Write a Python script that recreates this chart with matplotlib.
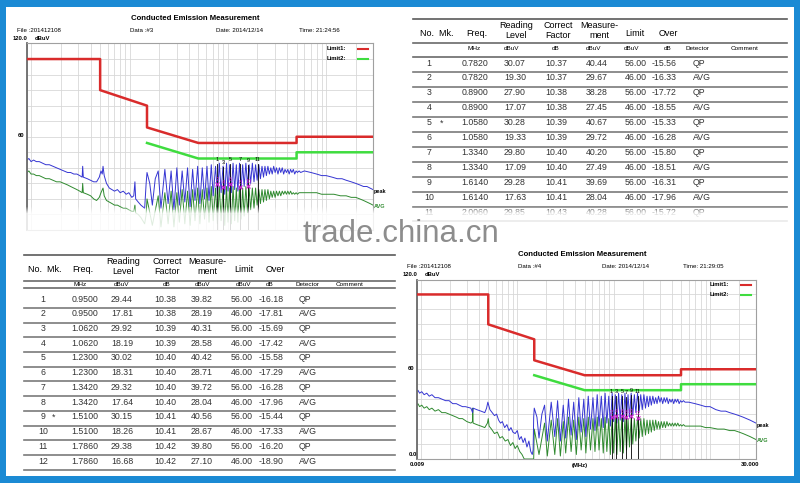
import numpy as np
import matplotlib
matplotlib.use("Agg")
import matplotlib.pyplot as plt
from matplotlib.patches import Rectangle
from matplotlib.lines import Line2D

plt.rcParams['font.family'] = ['Liberation Sans', 'DejaVu Sans']

# ---------------------------------------------------------------- data
LIMIT_QP_F = [0.009, 0.05, 0.05, 0.15, 0.15, 0.5, 5.0, 5.0, 30.0]
LIMIT_QP_V = [110, 110, 90, 80, 66, 56, 56, 60, 60]
LIMIT_AV_F = [0.15, 0.5, 5.0, 5.0, 30.0]
LIMIT_AV_V = [56, 46, 46, 50, 50]

D3_PEAK = [(0.0090,45),(0.0094,46),(0.0099,44),(0.0105,45),(0.0112,44),(0.0120,44),(0.0130,43),(0.0140,42),
           (0.0152,42),(0.0165,41),(0.0180,40),(0.0196,39),(0.0214,38),(0.0233,37),(0.0250,37),(0.0270,36),
           (0.0290,36),(0.0310,35),(0.0328,34),(0.0332,41),(0.0337,34),(0.0370,33),(0.0400,32),(0.0430,31),
           (0.0460,31),(0.0490,34),(0.0510,38),(0.0525,36),(0.0535,41),(0.0550,35),(0.0580,30),(0.0620,27),
           (0.0660,26),(0.0700,25),(0.0750,26),(0.0800,24),(0.0860,25),(0.0920,23),(0.0980,24),(0.1050,21),
           (0.1100,22),(0.1130,31),(0.1150,20),(0.1220,18),(0.1300,16),(0.1360,15),(0.1420,14),(0.1470,30),
           (0.150,37),(0.160,30),(0.170,16),(0.182,33),(0.195,38),(0.208,14),(0.228,39),(0.246,17),(0.264,38),
           (0.282,13),(0.302,40),(0.320,16),(0.342,38),(0.364,18),(0.388,40),(0.412,15),(0.437,39),(0.462,19),
           (0.492,41),(0.518,17),(0.548,40),(0.578,20),(0.612,41),(0.642,19),(0.677,42),(0.708,22),(0.748,41),
           (0.782,23),(0.818,43),(0.852,24),(0.892,41),(0.928,23),(0.968,43),(1.002,25),(1.043,42),(1.083,24),
           (1.128,43),(1.172,26),(1.218,42),(1.263,25),(1.313,43),(1.363,27),(1.413,42),(1.463,28),(1.523,43),
           (1.583,29),(1.643,42),(1.703,30),(1.773,43),(1.843,31),(1.913,42),(1.983,32),(2.063,42),(2.143,33),
           (2.223,41),(2.303,34),(2.383,41),(2.463,35),(2.553,41),(2.643,36),(2.733,40),(2.823,36),(2.923,41),
           (3.023,37),(3.123,40),(3.233,36),(3.343,40),(3.453,37),(3.573,40),(3.693,36),(3.813,39),(3.943,37),
           (4.073,39),(4.203,36),(4.343,39),(4.483,37),(4.633,39),(4.783,36),(4.943,38),(5.103,37),(5.303,38),
           (5.503,37),(6.0,38),(7.0,37),(8.0,36),(9.0,35),(10.0,35),(11.5,34),(13.0,33),(14.5,33),(16.0,32),
           (18.0,31),(20.0,30),(22.0,29),(24.0,28),(26.0,28),(28.0,27),(30.0,26)]

D3_AVG = [(0.0090,37),(0.0094,38),(0.0099,36),(0.0105,36),(0.0112,35),(0.0120,35),(0.0130,34),(0.0140,33),
          (0.0152,33),(0.0165,32),(0.0180,31),(0.0196,31),(0.0214,30),(0.0233,29),(0.0250,28),(0.0270,27),
          (0.0290,26),(0.0310,25),(0.0328,24),(0.0332,30),(0.0337,24),(0.0370,23),(0.0400,22),(0.0430,20),
          (0.0460,19),(0.0490,21),(0.0510,24),(0.0535,27),(0.0550,22),(0.0580,19),(0.0620,18),(0.0660,17),
          (0.0700,16),(0.0750,16),(0.0800,15),(0.0860,14),(0.0920,14),(0.0980,13),(0.1050,12),(0.1100,12),
          (0.1130,16),(0.1150,11),(0.1220,10),(0.1300,8),(0.1360,6),(0.1420,4),(0.1470,10),
          (0.150,20),(0.170,3),(0.195,22),(0.208,2),(0.228,24),(0.246,4),(0.264,25),(0.282,2),(0.302,24),
          (0.320,5),(0.342,26),(0.364,4),(0.388,25),(0.412,3),(0.437,26),(0.462,6),(0.492,27),(0.518,4),
          (0.548,26),(0.578,7),(0.612,27),(0.642,5),(0.677,28),(0.708,6),(0.748,27),(0.782,4),(0.818,28),
          (0.852,6),(0.892,27),(0.928,3),(0.968,28),(1.002,5),(1.043,27),(1.083,4),(1.128,28),(1.172,6),
          (1.218,27),(1.263,5),(1.313,28),(1.363,7),(1.413,27),(1.463,9),(1.523,28),(1.583,11),(1.643,27),
          (1.703,13),(1.773,27),(1.843,14),(1.913,27),(1.983,16),(2.063,26),(2.143,17),(2.223,26),(2.303,18),
          (2.383,26),(2.463,19),(2.553,26),(2.643,20),(2.733,25),(2.823,21),(2.923,25),(3.023,21),(3.123,25),
          (3.233,22),(3.343,25),(3.453,22),(3.573,25),(3.693,23),(3.813,25),(3.943,23),(4.073,25),(4.203,23),
          (4.343,25),(4.483,23),(4.633,24),(4.783,23),(4.943,24),(5.103,23),(5.303,24),(5.503,24),
          (6.0,24),(7.0,24),(8.0,24),(9.0,23),(10.0,23),(12.0,23),(14.0,22),(16.0,22),(18.0,21),(20.0,21),
          (22.0,20),(24.0,19),(26.0,18),(28.0,17),(30.0,16)]

D4_PEAK = [(0.0090,45),(0.0093,46),(0.0097,44),(0.0102,45),(0.0108,43),(0.0115,44),(0.0122,42),(0.0130,43),
           (0.0140,41),(0.0152,41),(0.0165,40),(0.0180,39),(0.0196,39),(0.0214,37),(0.0233,37),(0.0250,36),
           (0.0270,35),(0.0290,35),(0.0330,34),(0.0344,31),(0.0348,34),(0.0380,33),(0.0420,32),(0.0460,31),
           (0.0480,34),(0.0495,38),(0.0505,36),(0.0520,33),(0.0550,31),(0.0580,29),(0.0610,30),(0.0640,26),
           (0.0670,24),(0.0700,25),(0.0740,21),(0.0780,23),(0.0820,19),(0.0860,21),(0.0900,18),(0.0950,17),
           (0.1000,19),(0.1050,13),(0.1100,15),(0.1150,11),(0.1200,14),(0.1260,8),(0.1320,12),(0.1380,5),
           (0.1430,3),(0.1460,6),(0.1480,28),
           (0.150,34),(0.160,28),(0.168,14),(0.180,30),(0.192,36),(0.205,12),(0.225,38),(0.245,15),(0.262,39),
           (0.280,12),(0.300,36),(0.318,14),(0.340,40),(0.362,16),(0.385,38),(0.410,13),(0.435,41),(0.460,18),
           (0.490,40),(0.515,15),(0.545,42),(0.575,20),(0.610,41),(0.640,19),(0.675,43),(0.705,22),(0.745,42),
           (0.780,21),(0.815,44),(0.850,24),(0.890,42),(0.925,22),(0.965,44),(1.000,25),(1.040,43),(1.080,24),
           (1.125,44),(1.170,26),(1.215,43),(1.260,25),(1.310,44),(1.360,27),(1.410,43),(1.460,28),(1.520,44),
           (1.580,29),(1.640,43),(1.700,31),(1.770,44),(1.840,32),(1.910,43),(1.980,33),(2.060,43),(2.140,34),
           (2.220,42),(2.300,35),(2.380,42),(2.460,36),(2.550,42),(2.640,37),(2.730,41),(2.820,37),(2.920,42),
           (3.020,38),(3.120,41),(3.230,37),(3.340,41),(3.450,38),(3.570,41),(3.690,37),(3.810,40),(3.940,38),
           (4.070,40),(4.200,37),(4.340,40),(4.480,38),(4.630,40),(4.780,37),(4.940,39),(5.100,38),(5.300,39),
           (5.500,38),(6.0,38),(7.0,37),(8.0,36),(9.0,35),(10.0,35),(11.5,33),(13.0,32),(14.5,32),(16.0,31),
           (18.0,30),(20.0,29),(22.0,28),(24.0,27),(26.0,26),(28.0,25),(30.0,24)]

D4_AVG = [(0.0090,36),(0.0093,37),(0.0097,35),(0.0102,36),(0.0108,34),(0.0115,35),(0.0122,33),(0.0130,34),
          (0.0140,32),(0.0152,33),(0.0165,31),(0.0180,31),(0.0196,30),(0.0214,29),(0.0233,28),(0.0250,27),
          (0.0270,27),(0.0300,25),(0.0330,24),(0.0343,25),(0.0345,34),(0.0348,24),(0.0380,23),(0.0420,22),
          (0.0460,21),(0.0490,24),(0.0500,27),(0.0510,22),(0.0540,20),(0.0580,17),(0.0620,18),(0.0660,14),
          (0.0700,15),(0.0750,12),(0.0800,13),(0.0850,9),(0.0900,11),(0.0950,7),(0.1000,9),(0.1060,5),
          (0.1120,3),(0.1180,0),(0.1480,0),
          (0.150,20),(0.168,3),(0.192,24),(0.205,2),(0.225,26),(0.245,3),(0.262,27),(0.280,2),(0.300,25),
          (0.318,4),(0.340,28),(0.362,5),(0.385,26),(0.410,3),(0.435,28),(0.460,6),(0.490,27),(0.515,4),
          (0.545,28),(0.575,6),(0.610,27),(0.640,5),(0.675,28),(0.705,6),(0.745,27),(0.780,4),(0.815,28),
          (0.850,5),(0.890,27),(0.925,3),(0.965,28),(1.000,4),(1.040,28),(1.080,3),(1.125,28),(1.170,5),
          (1.215,28),(1.260,4),(1.310,28),(1.360,6),(1.410,27),(1.460,8),(1.520,28),(1.580,10),(1.640,27),
          (1.700,12),(1.770,28),(1.840,14),(1.910,27),(1.980,15),(2.060,27),(2.140,16),(2.220,26),(2.300,17),
          (2.380,26),(2.460,18),(2.550,26),(2.640,19),(2.730,26),(2.820,20),(2.920,25),(3.020,20),(3.120,25),
          (3.230,21),(3.340,25),(3.450,21),(3.570,25),(3.690,22),(3.810,24),(3.940,22),(4.070,24),(4.200,22),
          (4.340,24),(4.480,22),(4.630,24),(4.780,22),(4.940,23),(5.100,22),(5.300,23),(5.500,22),
          (6.0,22),(7.0,22),(8.0,22),(9.0,21),(10.0,21),(12.0,20),(14.0,20),(16.0,19),(18.0,19),(20.0,18),
          (22.0,17),(24.0,16),(26.0,15),(28.0,14),(30.0,13)]

TABLE_HEAD_1 = ["Reading", "Correct", "Measure-"]
TABLE_HEAD_2 = ["Level", "Factor", "ment"]
TABLE_UNITS = ["MHz", "dBuV", "dB", "dBuV", "dBuV", "dB", "Detector", "Comment"]

TOP_ROWS = [
    ("1", "", "0.7820", "30.07", "10.37", "40.44", "56.00", "-15.56", "QP"),
    ("2", "", "0.7820", "19.30", "10.37", "29.67", "46.00", "-16.33", "AVG"),
    ("3", "", "0.8900", "27.90", "10.38", "38.28", "56.00", "-17.72", "QP"),
    ("4", "", "0.8900", "17.07", "10.38", "27.45", "46.00", "-18.55", "AVG"),
    ("5", "*", "1.0580", "30.28", "10.39", "40.67", "56.00", "-15.33", "QP"),
    ("6", "", "1.0580", "19.33", "10.39", "29.72", "46.00", "-16.28", "AVG"),
    ("7", "", "1.3340", "29.80", "10.40", "40.20", "56.00", "-15.80", "QP"),
    ("8", "", "1.3340", "17.09", "10.40", "27.49", "46.00", "-18.51", "AVG"),
    ("9", "", "1.6140", "29.28", "10.41", "39.69", "56.00", "-16.31", "QP"),
    ("10", "", "1.6140", "17.63", "10.41", "28.04", "46.00", "-17.96", "AVG"),
    ("11", "", "2.0060", "29.85", "10.43", "40.28", "56.00", "-15.72", "QP"),
]

BOTTOM_ROWS = [
    ("1", "", "0.9500", "29.44", "10.38", "39.82", "56.00", "-16.18", "QP"),
    ("2", "", "0.9500", "17.81", "10.38", "28.19", "46.00", "-17.81", "AVG"),
    ("3", "", "1.0620", "29.92", "10.39", "40.31", "56.00", "-15.69", "QP"),
    ("4", "", "1.0620", "18.19", "10.39", "28.58", "46.00", "-17.42", "AVG"),
    ("5", "", "1.2300", "30.02", "10.40", "40.42", "56.00", "-15.58", "QP"),
    ("6", "", "1.2300", "18.31", "10.40", "28.71", "46.00", "-17.29", "AVG"),
    ("7", "", "1.3420", "29.32", "10.40", "39.72", "56.00", "-16.28", "QP"),
    ("8", "", "1.3420", "17.64", "10.40", "28.04", "46.00", "-17.96", "AVG"),
    ("9", "*", "1.5100", "30.15", "10.41", "40.56", "56.00", "-15.44", "QP"),
    ("10", "", "1.5100", "18.26", "10.41", "28.67", "46.00", "-17.33", "AVG"),
    ("11", "", "1.7860", "29.38", "10.42", "39.80", "56.00", "-16.20", "QP"),
    ("12", "", "1.7860", "16.68", "10.42", "27.10", "46.00", "-18.90", "AVG"),
]

# ---------------------------------------------------------------- figure
W, H = 800, 483
fig = plt.figure(figsize=(8, 4.83), dpi=100)
fig.patch.set_facecolor('#1b8ad4')
fig.add_artist(Rectangle((6 / W, 1 - 476 / H), 788 / W, 469 / H, transform=fig.transFigure,
                         facecolor='white', edgecolor='none', zorder=0))


def T(x, y, s, **kw):
    kw.setdefault('va', 'center')
    fig.text(x / W, 1 - y / H, s, **kw)


def HL(x0, x1, y, color='#7a7a7a', lw=1.0):
    fig.add_artist(Line2D([x0 / W, x1 / W], [1 - y / H, 1 - y / H], color=color, lw=lw))


RED = '#d92b2b'
LGREEN = '#3fdc3f'
BLUE = '#3535d2'
DGREEN = '#2f8a2f'


def draw_chart(box, hdr, peak, avg, rows, show_bottom_labels):
    x0, y0, x1, y1 = box
    ax = fig.add_axes([x0 / W, 1 - y1 / H, (x1 - x0) / W, (y1 - y0) / H])
    ax.set_xscale('log')
    ax.set_xlim(0.009, 30)
    ax.set_ylim(0, 120)
    ax.tick_params(which='both', length=0, labelbottom=False, labelleft=False)
    for e in [-3, -2, -1, 0, 1]:
        for k in range(1, 10):
            f = k * 10.0 ** e
            if 0.009 < f < 30:
                ax.axvline(f, color='#d8d8d8', lw=0.6, zorder=0)
    for v in range(10, 120, 10):
        ax.axhline(v, color='#d8d8d8', lw=0.6, zorder=0)
    for s in ax.spines.values():
        s.set_color('#a0a0a0'); s.set_linewidth(0.8)
    ax.spines['left'].set_color('#6a6a6a'); ax.spines['left'].set_linewidth(1.3)

    ax.plot(LIMIT_QP_F, LIMIT_QP_V, color=RED, lw=1.8, zorder=3)
    ax.plot(LIMIT_AV_F, LIMIT_AV_V, color=LGREEN, lw=1.8, zorder=3)
    pf, pv = zip(*peak)
    af, av = zip(*avg)
    ax.plot(af, av, color=DGREEN, lw=0.7, zorder=2)
    ax.plot(pf, pv, color=BLUE, lw=0.7, zorder=2)

    for r in rows:
        f = float(r[2]); m = float(r[5])
        if r[8] == 'QP':
            ax.plot([f, f], [0, m + 2], color='black', lw=0.6, zorder=4)
            ax.text(f, m + 5, r[0], fontsize=4, color='black', ha='center', va='center', zorder=5)
        else:
            ax.plot([f], [m], marker='x', ms=2.5, color='#d020d0', mew=0.8, zorder=5)
            ax.text(f, m + 3, r[0], fontsize=4, color='#d020d0', ha='center', va='center', zorder=5)

    title_x, title_y, info_y, info_x, data_s, time_s = hdr
    T(title_x, title_y, 'Conducted Emission Measurement', fontsize=5.6, fontweight='bold', ha='center')
    T(info_x[0], info_y, 'File :201412108', fontsize=4.4)
    T(info_x[1], info_y, data_s, fontsize=4.4)
    T(info_x[2], info_y, 'Date: 2014/12/14', fontsize=4.4)
    T(info_x[3], info_y, time_s, fontsize=4.4)
    T(x0 - 14, y0 - 4.5, '120.0', fontsize=4.2, fontweight='bold')
    T(x0 + 8, y0 - 4.5, 'dBuV', fontsize=4.2, fontweight='bold')
    y60 = y1 - (y1 - y0) * 60 / 120
    T(x0 - 9, y60 - 1, '60', fontsize=4.2, fontweight='bold')
    # legend
    T(x1 - 46, y0 + 5.5, 'Limit1:', fontsize=4.2, fontweight='bold')
    T(x1 - 46, y0 + 15, 'Limit2:', fontsize=4.2, fontweight='bold')
    fig.add_artist(Line2D([(x1 - 15) / W, (x1 - 5) / W], [1 - (y0 + 5.5) / H] * 2, color=RED, lw=1.5))
    fig.add_artist(Line2D([(x1 - 15) / W, (x1 - 5) / W], [1 - (y0 + 15) / H] * 2, color=LGREEN, lw=1.5))
    # trace labels
    yp = y1 - (y1 - y0) * pv[-1] / 120
    ya = y1 - (y1 - y0) * av[-1] / 120
    T(x1 + 1, yp + 2, 'peak', fontsize=4, color='black', fontweight='bold')
    T(x1 + 1, ya + 1, 'AVG', fontsize=4, color=DGREEN, fontweight='bold')
    if show_bottom_labels:
        T(x0 - 8, y1 - 4, '0.0', fontsize=4.2, fontweight='bold')
        T(x0 + 1, y1 + 6, '0.009', fontsize=4.2, fontweight='bold', ha='center')
        T((x0 + x1) / 2 - 6, y1 + 6, '(MHz)', fontsize=4.2, fontweight='bold', ha='center')
        T(x1 - 6, y1 + 6, '30.000', fontsize=4.2, fontweight='bold', ha='center')


def draw_table(rows, x0, x1, ys, hdr_x, unit_x, col_x, det_x, fs=6.3):
    y_top, y_h1, y_h2, y_hmid, y_hrule, y_unit, y_urule, y_row0, dy = ys
    HL(x0, x1, y_top, '#5a5a5a', 1.2)
    T(hdr_x[0], y_hmid, 'No.  Mk.', fontsize=6.5, ha='center')
    T(hdr_x[1], y_hmid, 'Freq.', fontsize=6.5, ha='center')
    for i in range(3):
        T(hdr_x[2 + i], y_h1, TABLE_HEAD_1[i], fontsize=6.5, ha='center')
        T(hdr_x[2 + i], y_h2, TABLE_HEAD_2[i], fontsize=6.5, ha='center')
    T(hdr_x[5], y_hmid - 1, 'Limit', fontsize=6.5, ha='center')
    T(hdr_x[6], y_hmid - 1, 'Over', fontsize=6.5, ha='center')
    HL(x0, x1, y_hrule, '#6a6a6a', 1.2)
    for s, ux in zip(TABLE_UNITS, unit_x):
        T(ux, y_unit, s, fontsize=4.6, ha='center')
    HL(x0, x1, y_urule, '#6a6a6a', 1.2)
    for i, r in enumerate(rows):
        y = y_row0 + i * dy
        for j in range(8):
            if r[j]:
                T(col_x[j], y, r[j], fontsize=fs, ha='center', color='#333333')
        T(det_x, y, r[8], fontsize=fs, ha='left', color='#333333')
        HL(x0, x1, y + 0.6 * dy, '#7a7a7a', 1.2)


# top-left chart
draw_chart((27, 43.5, 373, 230),
           (195, 18.5, 30.5, (17, 130, 216, 299), 'Data :#3', 'Time: 21:24:56'),
           D3_PEAK, D3_AVG, TOP_ROWS, False)
# bottom-right chart
draw_chart((416.5, 279.5, 756, 459),
           (582, 255, 266, (407, 518, 602, 683), 'Data :#4', 'Time: 21:29:05'),
           D4_PEAK, D4_AVG, BOTTOM_ROWS, True)

# top-right table
draw_table(TOP_ROWS, 413, 787, (19, 26, 36, 34, 43, 48.5, 57, 63, 14.95),
           (437, 477, 516, 558, 599, 635, 668),
           (474, 512, 556, 594, 632, 668, 698, 745),
           (429, 442, 475, 515, 556, 597, 636, 664), 693)
# bottom-left table
draw_table(BOTTOM_ROWS, 24, 395, (255, 262, 272, 270, 281, 284.3, 288, 299, 14.73),
           (45, 83, 123, 167, 207, 244, 275),
           (80, 122, 167, 203, 243, 270, 307, 350),
           (43, 53, 85, 122, 165, 202, 242, 271), 299)

# ---------------------------------------------------------------- fade + watermark overlay
ax_o = fig.add_axes([0, 0, 1, 1], zorder=20)
ax_o.set_xlim(0, W)
ax_o.set_ylim(H, 0)
ax_o.axis('off')
ys_f = np.arange(205, 248)
alpha = np.interp(ys_f, [207, 214, 237, 246], [0, 0.85, 0.85, 0])
img = np.ones((len(ys_f), 1, 4))
img[:, 0, 3] = alpha
ax_o.imshow(img, extent=(6, 794, ys_f[-1] + 0.5, ys_f[0] - 0.5), aspect='auto',
            interpolation='bilinear', zorder=1)
ax_o.set_xlim(0, W)
ax_o.set_ylim(H, 0)
ax_o.text(401, 242.5, 'trade.china.cn', fontsize=22.5, color='#8d8d8d', ha='center', va='baseline',
          family='Liberation Sans', zorder=2)

fig.savefig('out.png', dpi=100, facecolor=fig.get_facecolor())
